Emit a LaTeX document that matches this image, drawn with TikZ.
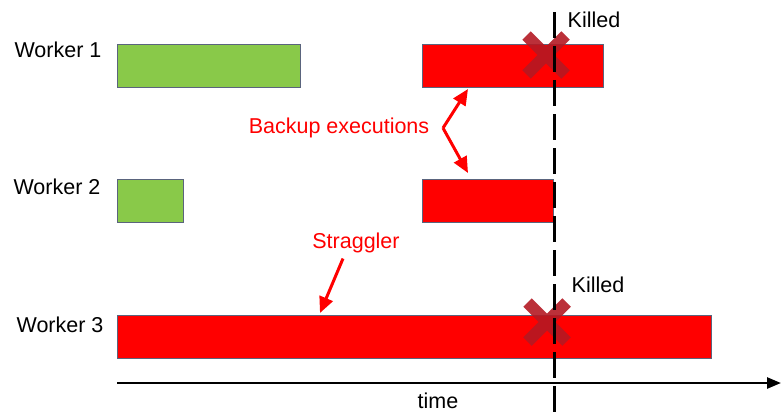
\documentclass[tikz,border=0pt]{standalone}
\usepackage{fontspec}
\setmainfont{Liberation Sans}
\usetikzlibrary{arrows.meta,shapes.misc,calc}

\begin{document}
\begin{tikzpicture}[
        x=1pt, y=-1pt,
        every node/.style={font=\fontsize{21.5}{25}\selectfont},
        bar/.style={draw={rgb,255:red,90;green,100;blue,125}, line width=0.8pt, inner sep=0pt, outer sep=0pt, anchor=north west, minimum height=43pt},
        donebar/.style={bar, fill={rgb,255:red,137;green,201;blue,73}},
        slowbar/.style={bar, fill={rgb,255:red,255;green,0;blue,0}},
        killmark/.style={cross out, draw={rgb,255:red,180;green,25;blue,35}, draw opacity=0.9, line width=12pt, minimum size=27pt, inner sep=0pt},
        note/.style={text={rgb,255:red,255;green,0;blue,0}},
        notearrow/.style={draw={rgb,255:red,255;green,0;blue,0}, line width=3pt, -{Triangle[length=16pt,width=14pt]}},
        deadline/.style={draw=black, line width=3pt, dash pattern=on 26pt off 8pt}
    ]
    \useasboundingbox (0,0) rectangle (781,413);

    % workers
    \node (w1) at (58,50) {Worker 1};
    \node (w2) at (57,187) {Worker 2};
    \node (w3) at (60,325) {Worker 3};

    % tasks
    \node[donebar, minimum width=183pt] (g1) at (117,44) {};
    \node[slowbar, minimum width=181pt] (r1) at (422,44) {};
    \node[donebar, minimum width=66pt] (g2) at (117,179) {};
    \node[slowbar, minimum width=131pt] (r2) at (422,179) {};
    \node[slowbar, minimum width=594pt] (r3) at (117,315) {};

    % kills
    \node[killmark] (x1) at (546,55) {};
    \node[killmark] (x2) at (547,322) {};
    \node (k1) at (594,20) {Killed};
    \node (k2) at (598,285) {Killed};

    % time
    \coordinate (t0) at (117,383);
    \coordinate (t1) at (781,383);
    \draw[line width=2.5pt, -{Triangle[length=14pt,width=11pt]}] (t0) -- (t1);
    \node (time) at (438,401) {time};
    \coordinate (d0) at (554,12);
    \coordinate (d1) at (554,413);
    \draw[deadline] (d0) -- (d1);

    % notes
    \node[note] (backup) at (339,128) {Backup executions};
    \coordinate (fork) at (443,128);
    \draw[notearrow] (fork) -- ($(r1.south west)+(46,2)$);
    \draw[notearrow] (fork) -- ($(r2.north west)+(46,-6)$);
    \node[note] (strag) at (356,243) {Straggler};
    \draw[notearrow] ($(strag.south)+(-13,2)$) -- ($(r3.north west)+(203,-2)$);
\end{tikzpicture}
\end{document}
